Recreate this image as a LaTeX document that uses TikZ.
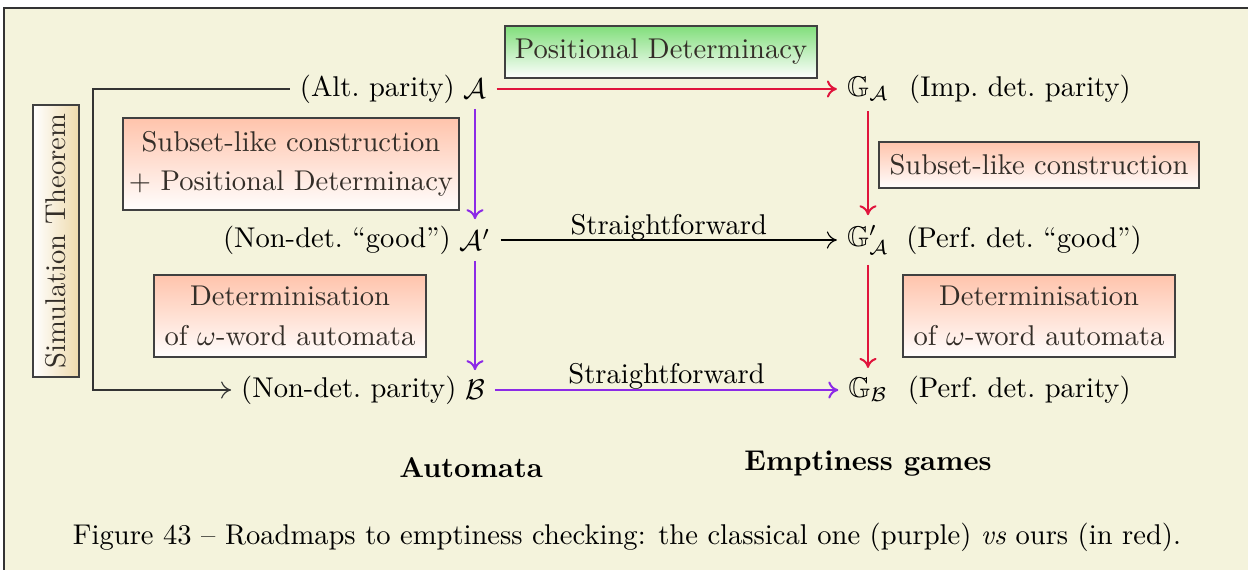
\documentclass[tikz,border=0pt]{standalone}
\usepackage{amsmath,amssymb}
\usepackage{xcolor}
\usetikzlibrary{arrows.meta, positioning}

\definecolor{paper}{RGB}{244,243,220}
\definecolor{redpath}{RGB}{224,20,60}
\definecolor{purplepath}{RGB}{140,42,230}
\definecolor{greenbox}{RGB}{128,222,122}
\definecolor{salmonbox}{RGB}{255,196,172}
\definecolor{tanbox}{RGB}{238,218,172}
\definecolor{boxtext}{RGB}{52,46,40}

\tikzset{
  notebox/.style={draw=black!75, line width=0.7pt, text=boxtext, align=center,
    inner sep=2pt, top color=salmonbox, bottom color=white!97!salmonbox},
  greenbox/.style={notebox, top color=greenbox, bottom color=white},
  redarr/.style={->, redpath, line width=0.7pt},
  purplearr/.style={->, purplepath, line width=0.7pt},
  plainarr/.style={->, line width=0.4pt}
}

\begin{document}
\begin{tikzpicture}[x=0.35pt, y=-0.35pt, >={To[length=3.5pt,width=6pt]},
  every node/.append style={font=\fontsize{10}{13.8}\selectfont}]
    \useasboundingbox (0,0) rectangle (1248,570);
    \fill[paper] (4,8) rectangle (1248,570);
    \draw[black!80, line width=0.8pt] (1248,8) -- (4,8) -- (4,570);

    % automata side
    \node (A) at (475,89) {$\mathcal{A}$};
    \node[left=-4pt of A] (altpar) {(Alt.~parity)};
    \node (Ap) at (475,240) {$\mathcal{A}'$};
    \node[left=-4pt of Ap] (nondetgood) {(Non-det.~``good'')};
    \node (B) at (475,390) {$\mathcal{B}$};
    \node[left=-4pt of B] (nondetpar) {(Non-det.~parity)};

    % games side
    \node (GA) at (868,89) {$\mathbb{G}_{\mathcal{A}}$};
    \node[right=0pt of GA] (impdet) {(Imp.~det.~parity)};
    \node (GAp) at (868,240) {$\mathbb{G}'_{\mathcal{A}}$};
    \node[right=-1pt of GAp] (perfgood) {(Perf.~det.~``good'')};
    \node (GB) at (868,390) {$\mathbb{G}_{\mathcal{B}}$};
    \node[right=0pt of GB] (perfpar) {(Perf.~det.~parity)};

    % labels on the arrows
    \node[greenbox, minimum width=109pt, minimum height=18.5pt] (posdet) at (661,52) {Positional Determinacy};
    \node[notebox, minimum width=117.5pt, minimum height=32pt] (subsetA) at (291,164) {Subset-like construction\\+ Positional Determinacy};
    \node[notebox, minimum width=95pt, minimum height=28.7pt] (detA) at (290,316) {Determinisation\\of $\omega$-word automata};
    \node[notebox, minimum width=112pt, minimum height=16pt] (subsetG) at (1039,165) {Subset-like construction};
    \node[notebox, minimum width=95pt, minimum height=28.7pt] (detG) at (1039,316) {Determinisation\\of $\omega$-word automata};
    \node[notebox, rotate=90, top color=white, bottom color=white, left color=white, right color=tanbox,
      minimum width=95.5pt, minimum height=16pt] (simthm) at (56,241) {Simulation Theorem};
    \coordinate (simcorner) at (93,89);

    \draw[redarr] (A) -- (GA);
    \draw[redarr] (GA) -- (GAp);
    \draw[redarr] (GAp) -- (GB);
    \draw[purplearr] (A) -- (Ap);
    \draw[purplearr] (Ap) -- (B);
    \draw[purplearr] (B) -- node[above=-3.5pt, text=black] (fwdB) {Straightforward} (GB);
    \draw[plainarr] (Ap) -- node[above=-3.5pt] (fwdA) {Straightforward} (GAp);
    \draw[plainarr, black!80] (altpar.west) -- (simcorner) |- (nondetpar.west);

    \node[font=\bfseries] (automata) at (471,468) {Automata};
    \node[font=\bfseries] (games) at (868,464) {Emptiness games};
    \node (caption) at (627,537) {Figure 43 -- Roadmaps to emptiness checking: the classical one (purple) \emph{vs} ours (in red).};
\end{tikzpicture}
\end{document}
